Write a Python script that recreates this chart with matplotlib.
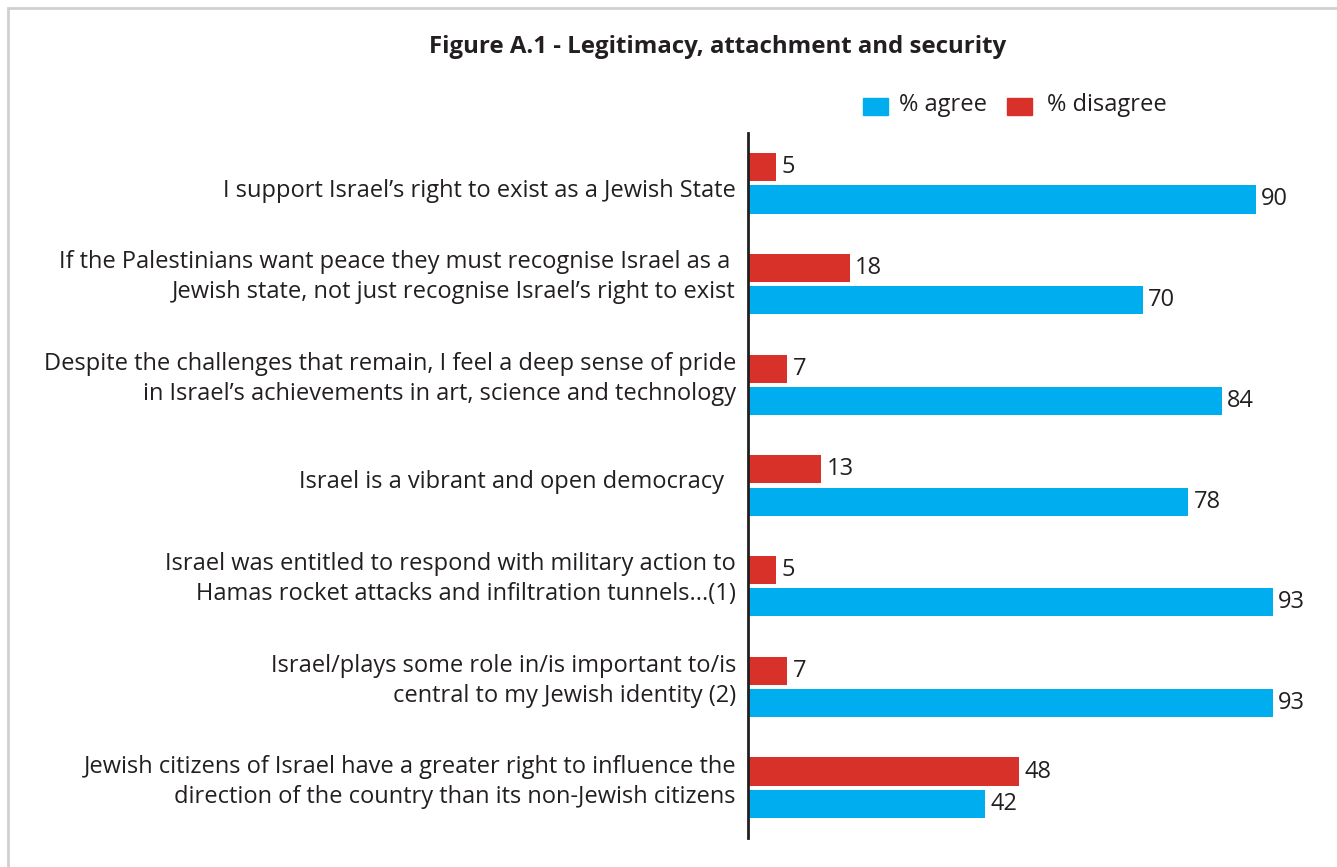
import matplotlib
matplotlib.use("Agg")
import matplotlib.pyplot as plt
from matplotlib.patches import Rectangle
from matplotlib.transforms import ScaledTranslation

categories = [
    "I support Israel\u2019s right to exist as a Jewish State",
    "If the Palestinians want peace they must recognise Israel as a \nJewish state, not just recognise Israel\u2019s right to exist",
    "Despite the challenges that remain, I feel a deep sense of pride\nin Israel\u2019s achievements in art, science and technology",
    "Israel is a vibrant and open democracy  ",
    "Israel was entitled to respond with military action to\nHamas rocket attacks and infiltration tunnels...(1)",
    "Israel/plays some role in/is important to/is\ncentral to my Jewish identity (2)",
    "Jewish citizens of Israel have a greater right to influence the\ndirection of the country than its non-Jewish citizens",
]
agree = [90, 70, 84, 78, 93, 93, 42]
disagree = [5, 18, 7, 13, 5, 7, 48]
series_names = ["% agree", "% disagree"]
title = "Figure A.1 - Legitimacy, attachment and security"

# vertical nudges of the category labels in pixels (positive = down), layout only
label_nudge_px = [8, -7.5, -6, -3, -7, -6, -6]

BLUE = "#00AEEF"
RED = "#D7312A"
TXT = "#231F20"
FONT = "Open Sans"

W, H = 1337, 867
fig = plt.figure(figsize=(W / 100, H / 100), dpi=100)
fig.patch.set_facecolor("white")

# frame border
fig.add_artist(Rectangle((8 / W, -0.1), 1.2, 1 - 8 / H + 0.1, transform=fig.transFigure,
                         fill=False, edgecolor="#D0D0D0", linewidth=2))

ax = fig.add_axes([748 / W, 1 - 838 / H, 564 / W, 705 / H])
ax.set_xlim(0, 100)
ax.set_ylim(6.5, -0.5)

ys = list(range(len(categories)))
bh = 0.28
off = 0.16
ax.barh([y - off for y in ys], disagree, height=bh, color=RED, zorder=2)
ax.barh([y + off for y in ys], agree, height=bh, color=BLUE, zorder=2)

for y, v in zip(ys, disagree):
    ax.annotate(str(v), (v, y - off), xytext=(4, 0), textcoords="offset points",
                ha="left", va="center", fontsize=17, color=TXT, family=FONT)
for y, v in zip(ys, agree):
    ax.annotate(str(v), (v, y + off), xytext=(4, 0), textcoords="offset points",
                ha="left", va="center", fontsize=17, color=TXT, family=FONT)

ax.set_yticks([])
ax.set_xticks([])
for y, lab, dy in zip(ys, categories, label_nudge_px):
    tr = ax.get_yaxis_transform() + ScaledTranslation(-12 / 100, -dy / 100, fig.dpi_scale_trans)
    ax.text(0, y, lab, transform=tr, ha="right", va="center", fontsize=17,
            color=TXT, family=FONT, linespacing=1.33, multialignment="right")

for s in ["top", "right", "bottom"]:
    ax.spines[s].set_visible(False)
ax.spines["left"].set_color(TXT)
ax.spines["left"].set_linewidth(2)
ax.set_facecolor("none")

fig.text(718 / W, 1 - 47 / H, title, ha="center", va="center", fontsize=17.3,
         fontweight="bold", color=TXT, family=FONT)

# legend
for x0, tx, col, name in [(863, 899, BLUE, series_names[0]), (1007, 1047, RED, series_names[1])]:
    fig.add_artist(Rectangle((x0 / W, 1 - 115 / H), 25 / W, 17 / H,
                             transform=fig.transFigure, color=col))
    fig.text(tx / W, 1 - 105 / H, name, ha="left", va="center",
             fontsize=17, color=TXT, family=FONT)

fig.savefig("out.png", dpi=100)
